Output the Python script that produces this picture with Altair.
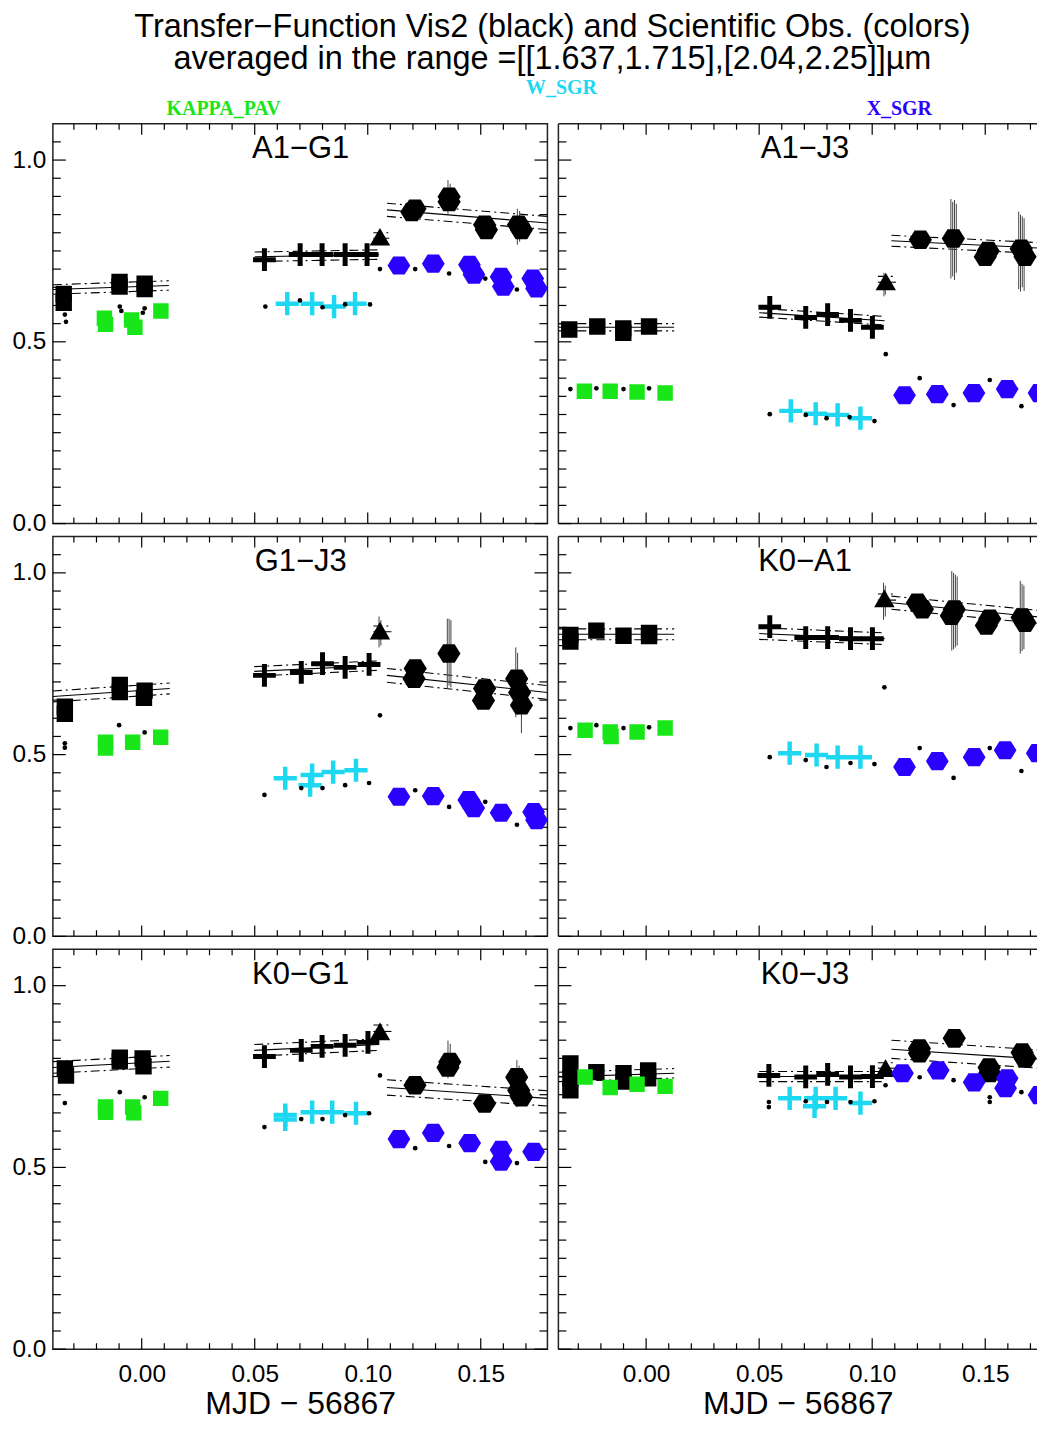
import altair as alt
import pandas as pd

# ---------------------------------------------------------------- data
PANELS = ["A1−G1", "A1−J3", "G1−J3", "K0−A1", "K0−G1", "K0−J3"]

TITLE_LINES = ["Transfer−Function Vis2 (black) and Scientific Obs. (colors)",
               "averaged in the range =[[1.637,1.715],[2.04,2.25]]µm"]
# title text positions (data units of the top-left panel): (x, y)
TITLE_POS = [(0.1817, 1.3647), (0.1817, 1.2770)]
X_TITLE = "MJD − 56867"

X_LABELS = [0.00, 0.05, 0.10, 0.15]
X_MINOR = [-0.03, -0.02, -0.01, 0.01, 0.02, 0.03, 0.04, 0.06, 0.07, 0.08, 0.09,
           0.11, 0.12, 0.13, 0.14, 0.16, 0.17]
Y_LABELS = [0.0, 0.5, 1.0]
Y_MINOR = [0.05, 0.10, 0.15, 0.20, 0.25, 0.30, 0.35, 0.40, 0.45, 0.55, 0.60,
           0.65, 0.70, 0.75, 0.80, 0.85, 0.90, 0.95, 1.05]

XDOM_L = [-0.0393, 0.1795]
XDOM_R = [-0.0388, 0.1729]
Y_DOMAIN = [0.0, 1.1]

PANEL_LABEL_POS = (0.0703, 1.030)

# star labels: (panel, text, x, y, color)
STAR_LABELS = [
    ("A1−G1", "KAPPA_PAV", 0.0362, 1.140, "#19E619"),
    ("A1−G1", "W_SGR", 0.1857, 1.199, "#1ED8F2"),
    ("A1−J3", "X_SGR", 0.1120, 1.140, "#2A00FF"),
]

# transfer function segments: (x0, x1, y0, y1, half-width of envelope)
TF_SEGMENTS = {
    "A1−G1": [(-0.0393, 0.0120, 0.644, 0.655, 0.013), (0.0500, 0.1050, 0.734, 0.740, 0.013),
              (0.1025, 0.1095, 0.785, 0.785, 0.015), (0.1085, 0.1795, 0.863, 0.827, 0.018)],
    "A1−J3": [(-0.0388, 0.0124, 0.540, 0.540, 0.010), (0.0500, 0.1055, 0.580, 0.558, 0.012),
              (0.1025, 0.1105, 0.664, 0.664, 0.016), (0.1085, 0.1765, 0.778, 0.757, 0.015)],
    "G1−J3": [(-0.0393, 0.0124, 0.660, 0.682, 0.015), (0.0498, 0.1050, 0.729, 0.745, 0.013),
              (0.1025, 0.1105, 0.838, 0.838, 0.016), (0.1085, 0.1795, 0.718, 0.671, 0.019)],
    "K0−A1": [(-0.0388, 0.0124, 0.831, 0.831, 0.015), (0.0500, 0.1055, 0.833, 0.819, 0.016),
              (0.1025, 0.1105, 0.925, 0.925, 0.017), (0.1085, 0.1765, 0.918, 0.877, 0.018)],
    "K0−G1": [(-0.0393, 0.0124, 0.775, 0.792, 0.016), (0.0498, 0.1050, 0.822, 0.838, 0.016),
              (0.1025, 0.1105, 0.874, 0.874, 0.018), (0.1085, 0.1795, 0.720, 0.690, 0.021)],
    "K0−J3": [(-0.0388, 0.0124, 0.749, 0.759, 0.013), (0.0500, 0.1055, 0.750, 0.750, 0.014),
              (0.1025, 0.1105, 0.773, 0.773, 0.015), (0.1085, 0.1765, 0.825, 0.797, 0.025)],
}

# error bars: (x, low, high)
ERROR_BARS = {
    "A1−G1": [(0.1355, 0.852, 0.945), (0.1365, 0.86, 0.935), (0.1662, 0.767, 0.866), (0.1672, 0.775, 0.86)],
    "A1−J3": [(0.1348, 0.674, 0.893), (0.1356, 0.680, 0.885), (0.1364, 0.670, 0.890), (0.1372, 0.690, 0.880),
              (0.1648, 0.645, 0.858), (0.1656, 0.638, 0.850), (0.1664, 0.650, 0.845), (0.1672, 0.640, 0.840),
              (0.1052, 0.625, 0.690), (0.1058, 0.630, 0.685)],
    "G1−J3": [(0.1352, 0.682, 0.874), (0.1360, 0.690, 0.874), (0.1368, 0.685, 0.870),
              (0.1655, 0.603, 0.795), (0.1663, 0.610, 0.780), (0.1680, 0.559, 0.700),
              (0.1050, 0.795, 0.880), (0.1058, 0.800, 0.870)],
    "K0−A1": [(0.1352, 0.786, 1.005), (0.1360, 0.790, 1.000), (0.1368, 0.795, 0.995), (0.1376, 0.800, 0.990),
              (0.1655, 0.778, 0.978), (0.1663, 0.785, 0.970), (0.1671, 0.790, 0.965),
              (0.1050, 0.871, 0.973), (0.1058, 0.880, 0.965)],
    "K0−G1": [(0.1355, 0.745, 0.849), (0.1365, 0.750, 0.840), (0.1660, 0.666, 0.795), (0.1670, 0.670, 0.780)],
    "K0−J3": [(0.0750, 0.650, 0.710), (0.1520, 0.750, 0.800)],
}

BLACK_SQUARES = {
    "A1−G1": [(-0.0345, 0.632), (-0.0345, 0.607), (-0.0098, 0.665), (-0.0098, 0.652), (0.0013, 0.660), (0.0013, 0.645)],
    "A1−J3": [(-0.0340, 0.534), (-0.0216, 0.542), (-0.0101, 0.537), (-0.0101, 0.525), (0.0013, 0.542)],
    "G1−J3": [(-0.0340, 0.632), (-0.0340, 0.612), (-0.0097, 0.692), (-0.0097, 0.672), (0.0013, 0.676), (0.0010, 0.656)],
    "K0−A1": [(-0.0335, 0.829), (-0.0335, 0.811), (-0.0220, 0.841), (-0.0100, 0.827), (0.0013, 0.835), (0.0013, 0.826)],
    "K0−G1": [(-0.0340, 0.772), (-0.0335, 0.753), (-0.0097, 0.802), (-0.0097, 0.792), (0.0004, 0.800), (0.0008, 0.778)],
    "K0−J3": [(-0.0335, 0.786), (-0.0335, 0.745), (-0.0335, 0.712), (-0.0220, 0.762), (-0.0100, 0.759),
              (-0.0100, 0.736), (0.0009, 0.767), (0.0009, 0.745)],
}

BLACK_PLUSES = {
    "A1−G1": [(0.0543, 0.726), (0.0701, 0.740), (0.0798, 0.740), (0.0900, 0.740), (0.0997, 0.740)],
    "A1−J3": [(0.0547, 0.595), (0.0706, 0.567), (0.0803, 0.575), (0.0904, 0.559), (0.1001, 0.540)],
    "G1−J3": [(0.0543, 0.718), (0.0706, 0.726), (0.0800, 0.750), (0.0900, 0.740), (0.1006, 0.748)],
    "K0−A1": [(0.0547, 0.852), (0.0706, 0.822), (0.0803, 0.822), (0.0904, 0.819), (0.1001, 0.819)],
    "K0−G1": [(0.0543, 0.805), (0.0706, 0.822), (0.0798, 0.833), (0.0900, 0.836), (0.1001, 0.844)],
    "K0−J3": [(0.0543, 0.753), (0.0706, 0.749), (0.0803, 0.756), (0.0904, 0.749), (0.1001, 0.750)],
}

BLACK_TRIANGLES = {
    "A1−G1": [(0.1054, 0.789)],
    "A1−J3": [(0.1060, 0.666)],
    "G1−J3": [(0.1054, 0.841)],
    "K0−A1": [(0.1054, 0.930)],
    "K0−G1": [(0.1054, 0.874)],
    "K0−J3": [(0.1059, 0.773)],
}

BLACK_HEXAGONS = {
    "A1−G1": [(0.1209, 0.866), (0.1195, 0.857), (0.1360, 0.899), (0.1360, 0.885), (0.1517, 0.822),
              (0.1525, 0.808), (0.1667, 0.822), (0.1680, 0.808)],
    "A1−J3": [(0.1213, 0.781), (0.1359, 0.784), (0.1513, 0.750), (0.1500, 0.734), (0.1659, 0.756), (0.1676, 0.734)],
    "G1−J3": [(0.1210, 0.737), (0.1205, 0.709), (0.1359, 0.778), (0.1517, 0.682), (0.1512, 0.649),
              (0.1659, 0.709), (0.1672, 0.671), (0.1680, 0.636)],
    "K0−A1": [(0.1200, 0.918), (0.1222, 0.900), (0.1363, 0.899), (0.1350, 0.882), (0.1520, 0.874),
              (0.1505, 0.855), (0.1663, 0.877), (0.1676, 0.863)],
    "K0−G1": [(0.1209, 0.726), (0.1363, 0.790), (0.1355, 0.775), (0.1517, 0.676), (0.1659, 0.748),
              (0.1668, 0.712), (0.1680, 0.693)],
    "K0−J3": [(0.1209, 0.827), (0.1209, 0.814), (0.1363, 0.855), (0.1517, 0.775), (0.1520, 0.760),
              (0.1663, 0.816), (0.1676, 0.800)],
}

KAPPA_PAV = {
    "A1−G1": [(-0.0165, 0.565), (-0.0160, 0.548), (-0.0045, 0.560), (-0.0030, 0.540), (0.0085, 0.585)],
    "A1−J3": [(-0.0273, 0.364), (-0.0159, 0.364), (-0.0040, 0.362), (0.0084, 0.359)],
    "G1−J3": [(-0.0160, 0.534), (-0.0160, 0.518), (-0.0040, 0.534), (0.0084, 0.548)],
    "K0−A1": [(-0.0270, 0.567), (-0.0159, 0.562), (-0.0155, 0.550), (-0.0040, 0.562), (0.0084, 0.573)],
    "K0−G1": [(-0.0160, 0.666), (-0.0160, 0.652), (-0.0040, 0.666), (-0.0035, 0.650), (0.0084, 0.690)],
    "K0−J3": [(-0.0270, 0.749), (-0.0159, 0.720), (-0.0040, 0.729), (0.0084, 0.723)],
}

W_SGR = {
    "A1−G1": [(0.0644, 0.605), (0.0754, 0.605), (0.0851, 0.597), (0.0944, 0.605)],
    "A1−J3": [(0.0640, 0.310), (0.0750, 0.302), (0.0847, 0.299), (0.0948, 0.290)],
    "G1−J3": [(0.0635, 0.435), (0.0754, 0.444), (0.0745, 0.416), (0.0847, 0.452), (0.0948, 0.457)],
    "K0−A1": [(0.0635, 0.504), (0.0754, 0.499), (0.0847, 0.493), (0.0948, 0.493)],
    "K0−G1": [(0.0635, 0.644), (0.0635, 0.632), (0.0754, 0.652), (0.0843, 0.652), (0.0948, 0.649)],
    "K0−J3": [(0.0635, 0.690), (0.0750, 0.690), (0.0745, 0.668), (0.0838, 0.690), (0.0948, 0.677)],
}

X_SGR = {
    "A1−G1": [(0.1138, 0.710), (0.1290, 0.715), (0.1450, 0.712), (0.1470, 0.685), (0.1590, 0.679),
              (0.1600, 0.652), (0.1730, 0.674), (0.1747, 0.647)],
    "A1−J3": [(0.1143, 0.353), (0.1288, 0.356), (0.1450, 0.359), (0.1597, 0.370), (0.1738, 0.359)],
    "G1−J3": [(0.1138, 0.384), (0.1290, 0.386), (0.1447, 0.375), (0.1469, 0.353), (0.1590, 0.340),
              (0.1734, 0.342), (0.1747, 0.320)],
    "K0−A1": [(0.1143, 0.466), (0.1288, 0.482), (0.1451, 0.493), (0.1588, 0.512), (0.1730, 0.504)],
    "K0−G1": [(0.1138, 0.578), (0.1290, 0.595), (0.1451, 0.567), (0.1590, 0.548), (0.1590, 0.516), (0.1734, 0.543)],
    "K0−J3": [(0.1134, 0.759), (0.1292, 0.767), (0.1451, 0.734), (0.1597, 0.745), (0.1590, 0.718), (0.1738, 0.699)],
}

SMALL_DOTS = {
    "A1−G1": [(-0.0340, 0.575), (-0.0335, 0.555), (-0.0097, 0.597), (-0.0090, 0.585), (0.0013, 0.592),
              (0.0005, 0.580), (0.0547, 0.597), (0.0700, 0.614), (0.0800, 0.595), (0.0900, 0.603),
              (0.1010, 0.603), (0.1054, 0.700), (0.1210, 0.700), (0.1360, 0.688), (0.1520, 0.674), (0.1660, 0.644)],
    "A1−J3": [(-0.0335, 0.370), (-0.0220, 0.372), (-0.0100, 0.370), (0.0013, 0.372), (0.0547, 0.301),
              (0.0706, 0.299), (0.0798, 0.290), (0.0900, 0.293), (0.1010, 0.282), (0.1060, 0.466),
              (0.1210, 0.400), (0.1360, 0.326), (0.1520, 0.395), (0.1660, 0.323)],
    "G1−J3": [(-0.0340, 0.531), (-0.0340, 0.519), (-0.0100, 0.581), (0.0013, 0.561), (0.0543, 0.389),
              (0.0706, 0.408), (0.0800, 0.408), (0.0900, 0.416), (0.1006, 0.422), (0.1054, 0.608),
              (0.1210, 0.402), (0.1360, 0.356), (0.1520, 0.370), (0.1660, 0.307)],
    "K0−A1": [(-0.0335, 0.573), (-0.0220, 0.581), (-0.0100, 0.573), (0.0013, 0.575), (0.0547, 0.493),
              (0.0706, 0.485), (0.0798, 0.466), (0.0904, 0.477), (0.1010, 0.474), (0.1054, 0.685),
              (0.1210, 0.518), (0.1360, 0.436), (0.1520, 0.518), (0.1660, 0.455)],
    "K0−G1": [(-0.0340, 0.677), (-0.0097, 0.707), (0.0013, 0.693), (0.0543, 0.611), (0.0706, 0.633),
              (0.0800, 0.633), (0.0900, 0.644), (0.1006, 0.649), (0.1054, 0.753), (0.1210, 0.553),
              (0.1360, 0.559), (0.1520, 0.515), (0.1660, 0.512)],
    "K0−J3": [(-0.0100, 0.733), (0.0543, 0.680), (0.0543, 0.666), (0.0706, 0.682), (0.0800, 0.680),
              (0.0904, 0.680), (0.1010, 0.682), (0.1059, 0.726), (0.1210, 0.748), (0.1360, 0.740),
              (0.1520, 0.693), (0.1520, 0.680), (0.1660, 0.707)],
}

# ---------------------------------------------------------------- styles
W_L, W_R, H = 496, 480, 401
FONT = "Liberation Sans"
GREEN, CYAN, BLUE = "#19E619", "#1ED8F2", "#2A00FF"
HEX = "M-1,0L-0.5,-0.8L0.5,-0.8L1,0L0.5,0.8L-0.5,0.8Z"
PLUS = "M-1,0L1,0M0,-1L0,1"
FRAME = "#222"


def pts(lst):
    return pd.DataFrame(lst, columns=["x", "y"])


def panel(name, col, row):
    w = W_L if col == 0 else W_R
    xs = alt.Scale(domain=XDOM_L if col == 0 else XDOM_R, nice=False, zero=False)
    ys = alt.Scale(domain=Y_DOMAIN, nice=False, zero=False)
    if row == 2:
        xax = alt.Axis(values=X_LABELS, format=".2f", labelFont=FONT, labelFontSize=24.5,
                       labelColor="black", labelPadding=13, ticks=False, domain=False,
                       grid=False, labelFlush=False, title=X_TITLE, titleFont=FONT,
                       titleFontSize=32, titleFontWeight="normal", titleColor="black",
                       titlePadding=3)
    else:
        xax = None
    if col == 0:
        yax = alt.Axis(values=Y_LABELS, format=".1f", labelFont=FONT, labelFontSize=24.5,
                       labelColor="black", labelPadding=7, ticks=False, domain=False,
                       grid=False, labelFlush=False, title=None)
    else:
        yax = None

    def X(f="x"):
        return alt.X(f"{f}:Q", scale=xs, axis=xax)

    def Y(f="y"):
        return alt.Y(f"{f}:Q", scale=ys, axis=yax)

    layers = []
    one = pd.DataFrame({"k": [0]})

    # frame of the right column (its right edge lies outside the picture)
    if col == 1:
        layers.append(alt.Chart(one).mark_rule(color=FRAME, strokeWidth=1.5).encode(
            x=alt.value(0), y=alt.value(0), y2=alt.value(H)))
        layers.append(alt.Chart(one).mark_rule(color=FRAME, strokeWidth=1.5).encode(
            y=alt.value(0), x=alt.value(0), x2=alt.value(w)))
        layers.append(alt.Chart(one).mark_rule(color=FRAME, strokeWidth=1.5).encode(
            y=alt.value(H), x=alt.value(0), x2=alt.value(w)))

    # tick marks (inward)
    for vals, ln in ((X_MINOR, 6), (X_LABELS, 11)):
        d = pd.DataFrame({"t": vals})
        layers.append(alt.Chart(d).mark_rule(color="black", strokeWidth=1.2, clip=True).encode(
            x=X("t"), y=alt.value(H), y2=alt.value(H - ln)))
        layers.append(alt.Chart(d).mark_rule(color="black", strokeWidth=1.2, clip=True).encode(
            x=X("t"), y=alt.value(0), y2=alt.value(ln)))
    for vals, ln in ((Y_MINOR, 8), (Y_LABELS, 13)):
        d = pd.DataFrame({"t": vals})
        layers.append(alt.Chart(d).mark_rule(color="black", strokeWidth=1.2).encode(
            y=Y("t"), x=alt.value(0), x2=alt.value(ln)))
        if col == 0:
            layers.append(alt.Chart(d).mark_rule(color="black", strokeWidth=1.2).encode(
                y=Y("t"), x=alt.value(w), x2=alt.value(w - ln)))

    # transfer function lines
    rows = []
    for i, (x0, x1, y0, y1, h) in enumerate(TF_SEGMENTS[name]):
        for kind, off in (("solid", 0.0), ("up", h), ("low", -h)):
            rows.append({"x": x0, "y": y0 + off, "g": f"{i}{kind}", "k": kind})
            rows.append({"x": x1, "y": y1 + off, "g": f"{i}{kind}", "k": kind})
    tf = pd.DataFrame(rows)
    layers.append(alt.Chart(tf[tf.k == "solid"]).mark_line(
        color="black", strokeWidth=1.1, clip=True).encode(x=X(), y=Y(), detail="g:N"))
    layers.append(alt.Chart(tf[tf.k != "solid"]).mark_line(
        color="black", strokeWidth=1.1, strokeDash=[9, 4, 2, 4], clip=True).encode(
        x=X(), y=Y(), detail="g:N"))

    # error bars
    eb = pd.DataFrame(ERROR_BARS[name], columns=["x", "lo", "hi"])
    if len(eb):
        layers.append(alt.Chart(eb).mark_rule(color="#444", strokeWidth=1, clip=True).encode(
            x=X(), y=Y("lo"), y2=alt.Y2("hi:Q")))

    # black transfer-function markers
    layers.append(alt.Chart(pts(BLACK_SQUARES[name])).mark_point(
        shape="square", filled=True, color="black", size=270, opacity=1, clip=True).encode(x=X(), y=Y()))
    layers.append(alt.Chart(pts(BLACK_PLUSES[name])).mark_point(
        shape=PLUS, filled=False, color="black", size=520, strokeWidth=5, opacity=1, clip=True).encode(
        x=X(), y=Y()))
    layers.append(alt.Chart(pts(BLACK_TRIANGLES[name])).mark_point(
        shape="triangle-up", filled=True, color="black", size=420, opacity=1, clip=True).encode(
        x=X(), y=Y()))
    layers.append(alt.Chart(pts(BLACK_HEXAGONS[name])).mark_point(
        shape=HEX, filled=True, color="black", size=540, opacity=1, clip=True).encode(x=X(), y=Y()))

    # science targets
    layers.append(alt.Chart(pts(KAPPA_PAV[name])).mark_point(
        shape="square", filled=True, color=GREEN, size=240, opacity=1, clip=True).encode(x=X(), y=Y()))
    layers.append(alt.Chart(pts(W_SGR[name])).mark_point(
        shape=PLUS, filled=False, color=CYAN, size=540, strokeWidth=4.5, opacity=1, clip=True).encode(
        x=X(), y=Y()))
    layers.append(alt.Chart(pts(X_SGR[name])).mark_point(
        shape=HEX, filled=True, color=BLUE, size=520, opacity=1, clip=True).encode(x=X(), y=Y()))
    layers.append(alt.Chart(pts(SMALL_DOTS[name])).mark_point(
        shape="circle", filled=True, color="black", size=22, opacity=1, clip=True).encode(x=X(), y=Y()))

    # panel label
    lab = pd.DataFrame([{"x": PANEL_LABEL_POS[0], "y": PANEL_LABEL_POS[1], "t": name}])
    layers.append(alt.Chart(lab).mark_text(
        font=FONT, fontSize=31, color="black", align="center", baseline="middle").encode(
        x=X(), y=Y(), text="t:N"))

    # star labels above the top row
    st = [s for s in STAR_LABELS if s[0] == name]
    if st:
        sd = pd.DataFrame([{"x": s[2], "y": s[3], "t": s[1], "c": s[4]} for s in st])
        layers.append(alt.Chart(sd).mark_text(
            font="Liberation Serif", fontWeight="bold", fontSize=20, align="center",
            baseline="middle").encode(x=X(), y=Y(), text="t:N", color=alt.Color("c:N", scale=None)))

    # main title (two lines) above the top-left panel
    if row == 0 and col == 0:
        td = pd.DataFrame([{"x": p[0], "y": p[1], "t": t} for p, t in zip(TITLE_POS, TITLE_LINES)])
        layers.append(alt.Chart(td).mark_text(
            font=FONT, fontSize=32.5, color="black", align="center", baseline="middle").encode(
            x=X(), y=Y(), text="t:N"))

    out = alt.layer(*layers).properties(width=w, height=H)
    if col == 1:
        out = out.properties(view=alt.ViewBackground(stroke="transparent"))
    return out


charts = [panel(PANELS[2 * r + c], c, r) for r in range(3) for c in range(2)]

chart = alt.concat(*charts, columns=2, spacing={"row": 13, "column": 11}, bounds="flush").properties(
    padding={"left": 3, "top": 0, "right": 0, "bottom": 0},
).configure_view(stroke=FRAME, strokeWidth=1.5)

chart.save("out.html", embed_options={"renderer": "svg", "actions": False})
